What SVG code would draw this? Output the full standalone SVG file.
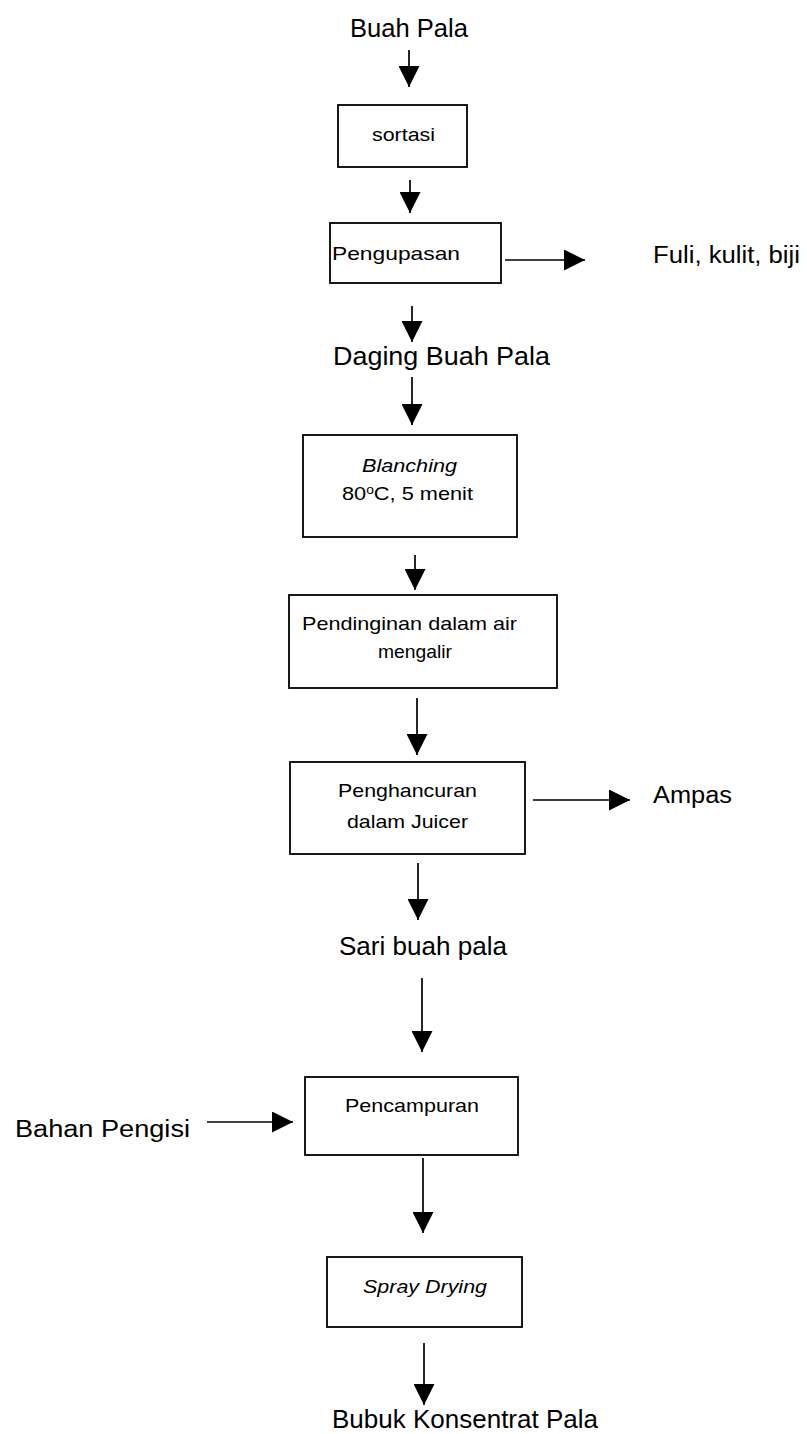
<svg xmlns="http://www.w3.org/2000/svg" width="807" height="1434" viewBox="0 0 807 1434">
<style>
text{font-family:"Liberation Sans",Arial,sans-serif;fill:#000;}
.big{font-size:25px;}
.small{font-size:19px;text-anchor:middle;}
.it{font-style:italic;}
.box{fill:#fff;stroke:#000;stroke-width:1.8;}
.ln{stroke:#000;stroke-width:1.7;fill:none;marker-end:url(#ah);}
</style>
<defs>
<marker id="ah" markerUnits="userSpaceOnUse" markerWidth="21" markerHeight="21" viewBox="0 0 21 21" refX="21" refY="10.5" orient="auto">
<path d="M0,0 L21,10.5 L0,21 z" fill="#000"/>
</marker>
</defs>
<rect width="807" height="1434" fill="#fff"/>
<g id="connectors">
<line class="ln" x1="409" y1="50" x2="409" y2="87"/>
<line class="ln" x1="410" y1="180" x2="410" y2="213"/>
<line class="ln" x1="505" y1="260" x2="585" y2="260"/>
<line class="ln" x1="412" y1="306" x2="412" y2="342"/>
<line class="ln" x1="412" y1="377" x2="412" y2="425"/>
<line class="ln" x1="415" y1="555" x2="415" y2="590"/>
<line class="ln" x1="417" y1="698" x2="417" y2="755"/>
<line class="ln" x1="533" y1="800" x2="630" y2="800"/>
<line class="ln" x1="418" y1="863" x2="418" y2="920"/>
<line class="ln" x1="422" y1="978" x2="422" y2="1052"/>
<line class="ln" x1="207" y1="1122" x2="293" y2="1122"/>
<line class="ln" x1="423" y1="1158" x2="423" y2="1233"/>
<line class="ln" x1="424" y1="1343" x2="424" y2="1405"/>
</g>
<g id="buah-pala"><text class="big" x="350" y="37" textLength="118" lengthAdjust="spacingAndGlyphs">Buah Pala</text></g>
<g id="sortasi"><rect class="box" x="338" y="105" width="129" height="62"/><text class="small" x="403.5" y="141" textLength="63" lengthAdjust="spacingAndGlyphs">sortasi</text></g>
<g id="pengupasan"><rect class="box" x="330" y="223" width="171" height="60"/><text class="small" x="396" y="260" textLength="128" lengthAdjust="spacingAndGlyphs">Pengupasan</text></g>
<g id="fuli"><text x="653" y="263" textLength="147" lengthAdjust="spacingAndGlyphs" style="font-size:23px">Fuli, kulit, biji</text></g>
<g id="daging"><text class="big" x="333" y="365" textLength="217" lengthAdjust="spacingAndGlyphs">Daging Buah Pala</text></g>
<g id="blanching"><rect class="box" x="303" y="435" width="214" height="102"/><text class="small it" x="409.5" y="472" textLength="95" lengthAdjust="spacingAndGlyphs">Blanching</text><text class="small" x="407.5" y="500" textLength="131" lengthAdjust="spacingAndGlyphs">80<tspan font-size="12" dy="-6">o</tspan><tspan dy="6">C, 5 menit</tspan></text></g>
<g id="pendinginan"><rect class="box" x="289" y="595" width="268" height="93"/><text class="small" x="409.5" y="630" textLength="215" lengthAdjust="spacingAndGlyphs">Pendinginan dalam air</text><text class="small" x="415" y="658" textLength="74" lengthAdjust="spacingAndGlyphs">mengalir</text></g>
<g id="penghancuran"><rect class="box" x="290" y="762" width="235" height="92"/><text class="small" x="407.5" y="797" textLength="139" lengthAdjust="spacingAndGlyphs">Penghancuran</text><text class="small" x="407.5" y="828" textLength="121" lengthAdjust="spacingAndGlyphs">dalam Juicer</text></g>
<g id="ampas"><text x="653" y="803" textLength="79" lengthAdjust="spacingAndGlyphs" style="font-size:23px">Ampas</text></g>
<g id="sari"><text class="big" x="339" y="955" textLength="168" lengthAdjust="spacingAndGlyphs">Sari buah pala</text></g>
<g id="bahan-pengisi"><text x="15" y="1137" textLength="175" lengthAdjust="spacingAndGlyphs" style="font-size:23px">Bahan  Pengisi</text></g>
<g id="pencampuran"><rect class="box" x="305" y="1077" width="213" height="78"/><text class="small" x="412" y="1112" textLength="134" lengthAdjust="spacingAndGlyphs">Pencampuran</text></g>
<g id="spray-drying"><rect class="box" x="327" y="1257" width="195" height="70"/><text class="small it" x="425" y="1293" textLength="124" lengthAdjust="spacingAndGlyphs">Spray Drying</text></g>
<g id="bubuk"><text class="big" x="332" y="1428" textLength="266" lengthAdjust="spacingAndGlyphs">Bubuk Konsentrat Pala</text></g>
</svg>
